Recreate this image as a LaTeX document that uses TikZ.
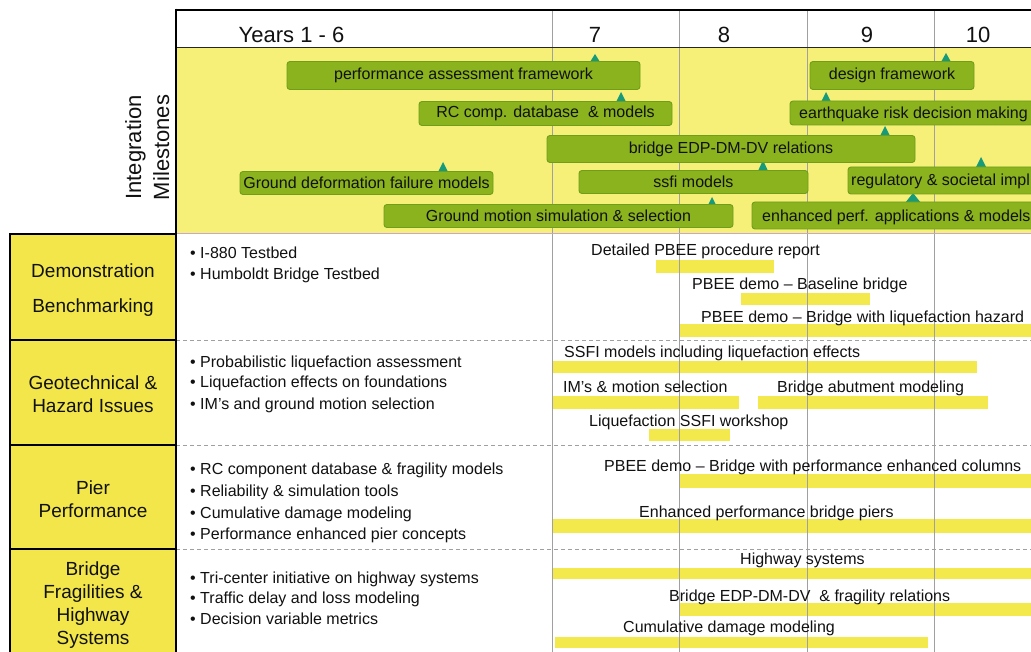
\documentclass[tikz,border=0pt]{standalone}
\usepackage{fontspec}
\setmainfont{Liberation Sans}
\definecolor{band}{HTML}{F6EF78}
\definecolor{labyellow}{HTML}{F2E64A}
\definecolor{baryellow}{HTML}{F3E84C}
\definecolor{msgreen}{HTML}{8AB31E}
\definecolor{msborder}{HTML}{6F9E1A}
\definecolor{tricol}{HTML}{169A7A}
\definecolor{gridgray}{HTML}{A0A0A0}
\definecolor{purpleline}{HTML}{C9A6CF}
\definecolor{txt}{HTML}{111111}
\tikzset{
  ms/.style={rectangle, rounded corners=3pt, fill=msgreen, draw=msborder, line width=0.9pt, inner sep=0pt, text=txt, font=\fontsize{16}{19}\selectfont},
  mstext/.style={inner sep=0pt, anchor=base west, text=txt, font=\fontsize{16}{19}\selectfont},
  tri/.style={fill=tricol},
  bar/.style={fill=baryellow},
  body/.style={inner sep=0pt, anchor=base west, text=txt, font=\fontsize{16}{19}\selectfont},
  hdr/.style={inner sep=0pt, anchor=base, text=txt, font=\fontsize{22}{26}\selectfont},
  labbox/.style={rectangle, fill=labyellow, draw=black, line width=1.4pt, inner sep=0pt},
  labtext/.style={inner sep=0pt, align=center, text=txt, font=\fontsize{19}{23}\selectfont},
  vlab/.style={inner sep=0pt, anchor=base, rotate=90, text=txt, font=\fontsize{22}{26}\selectfont},
  gridl/.style={draw=gridgray, line width=0.8pt},
  sep/.style={draw=gridgray, line width=0.8pt, dash pattern=on 4pt off 3pt}
}
\begin{document}
\begin{tikzpicture}[x=1pt,y=-1pt]
\useasboundingbox (0,0) rectangle (1031,652);
\clip (0,0) rectangle (1031,652);
\fill[white] (0,0) rectangle (1031,652);
% milestone band
\fill[band] (176,47.5) rectangle (1031,234);
% bars
\fill[bar] (656,260) rectangle (774,273);
\fill[bar] (741,293) rectangle (870,305);
\fill[bar] (679,324) rectangle (1031,337);
\fill[bar] (552,361) rectangle (977,373);
\fill[bar] (552,396) rectangle (739,409);
\fill[bar] (758,396) rectangle (988,409);
\fill[bar] (649,429) rectangle (730,441);
\fill[bar] (679,474) rectangle (1031,488);
\fill[bar] (552,519) rectangle (1031,533);
\fill[bar] (552,568) rectangle (1031,579);
\fill[bar] (679,603) rectangle (1031,616);
\fill[bar] (555,637) rectangle (928,648);
% grid lines
\foreach \gx in {552,679,807,934} \draw[gridl] (\gx,10) -- (\gx,652);
% dashed separators
\foreach \sy in {340,445,549} \draw[sep] (176,\sy) -- (1031,\sy);
% band bottom line
\draw[purpleline, line width=1pt] (176,234) -- (1031,234);
% header line and frame
\draw[black!85, line width=1.4pt] (176,47.5) -- (1031,47.5);
\draw[black, line width=2.5pt] (176,10) -- (1031,10);
\draw[black, line width=2.5pt] (176,8.75) -- (176,652);
% header
\node[hdr] (hY) at (291.5,42.5) {Years 1 - 6};
\node[hdr] (h7) at (595,42.5) {7};
\node[hdr] (h8) at (724,42.5) {8};
\node[hdr] (h9) at (867,42.5) {9};
\node[hdr] (h10) at (978,42.5) {10};
% vertical label
\node[vlab] (vInt) at (141,147.5) {Integration};
\node[vlab] (vMil) at (169,147.5) {Milestones};
% triangles
\fill[tri] (595,54) -- (600,62) -- (590,62) -- cycle;
\fill[tri] (621,92) -- (626,102) -- (616,102) -- cycle;
\fill[tri] (885,126) -- (890,136) -- (880,136) -- cycle;
\fill[tri] (443,162) -- (448,172) -- (438,172) -- cycle;
\fill[tri] (763,160) -- (768,171) -- (758,171) -- cycle;
\fill[tri] (712,197) -- (716,205) -- (708,205) -- cycle;
\fill[tri] (946,53) -- (951,62) -- (941,62) -- cycle;
\fill[tri] (826,92) -- (831,102) -- (821,102) -- cycle;
\fill[tri] (981,157) -- (986.5,168) -- (975.5,168) -- cycle;
\fill[tri] (913,193) -- (921,203) -- (905,203) -- cycle;
% milestone boxes
\node[ms, minimum width=353pt, minimum height=28pt] (mPA) at (463.5,75.5) {performance assessment framework};
\node[ms, minimum width=253pt, minimum height=24pt] (mRC) at (545.5,113.5) {RC comp. database\ \ \& models};
\node[ms, minimum width=368pt, minimum height=27pt] (mBR) at (731,149) {bridge EDP-DM-DV relations};
\node[ms, minimum width=253pt, minimum height=23pt] (mGD) at (366.5,183) {Ground deformation failure models};
\node[ms, minimum width=229pt, minimum height=23pt] (mSS) at (693.5,182) {ssfi models};
\node[ms, minimum width=349pt, minimum height=23pt] (mGM) at (558.5,216) {Ground motion simulation \& selection};
\node[ms, minimum width=164pt, minimum height=28pt] (mDF) at (892,75.5) {design framework};
\node[ms, minimum width=260pt, minimum height=24pt] (mEQ) at (920,113) {};
\node[mstext] (mEQt) at (799,119) {earthquake risk decision making};
\node[ms, minimum width=200pt, minimum height=27pt] (mRS) at (948,180.5) {};
\node[mstext] (mRSt) at (851,186) {regulatory \& societal impl};
\node[ms, minimum width=300pt, minimum height=27pt] (mEP) at (902,215.5) {};
\node[mstext] (mEPt) at (762,221.5) {enhanced perf. applications \& models};
% left label boxes
\node[labbox, minimum width=166pt, minimum height=106pt] (lDemo) at (93,287) {};
\node[labbox, minimum width=166pt, minimum height=105pt] (lGeo) at (93,392.5) {};
\node[labbox, minimum width=166pt, minimum height=104pt] (lPier) at (93,497) {};
\node[labbox, minimum width=166pt, minimum height=106pt] (lBri) at (93,602) {};
\node[labtext] (lDemoT) at (93,290) {Demonstration\\[12pt]Benchmarking};
\node[labtext] (lGeoT) at (93,394) {Geotechnical \&\\Hazard Issues};
\node[labtext] (lPierT) at (93,499.5) {Pier\\Performance};
\node[labtext] (lBriT) at (93,605) {Bridge\\Fragilities \&\\Highway\\Systems};
\draw[black, line width=2.5pt] (176,234) -- (176,652);
% left column bullets
\node[body] (b11) at (190,259) {• I-880 Testbed};
\node[body] (b12) at (190,280) {• Humboldt Bridge Testbed};
\node[body] (b21) at (190,367) {• Probabilistic liquefaction assessment};
\node[body] (b22) at (190,388) {• Liquefaction effects on foundations};
\node[body] (b23) at (190,409) {• IM's and ground motion selection};
\node[body] (b31) at (190,474) {• RC component database \& fragility models};
\node[body] (b32) at (190,496) {• Reliability \& simulation tools};
\node[body] (b33) at (190,518) {• Cumulative damage modeling};
\node[body] (b34) at (190,539) {• Performance enhanced pier concepts};
\node[body] (b41) at (190,583) {• Tri-center initiative on highway systems};
\node[body] (b42) at (190,603) {• Traffic delay and loss modeling};
\node[body] (b43) at (190,624) {• Decision variable metrics};
% bar labels
\node[body] (t1) at (591,256) {Detailed PBEE procedure report};
\node[body] (t2) at (692,290) {PBEE demo – Baseline bridge};
\node[body] (t3) at (701,323) {PBEE demo – Bridge with liquefaction hazard};
\node[body] (t4) at (564,358) {SSFI models including liquefaction effects};
\node[body] (t5) at (563,392) {IM's \& motion selection};
\node[body] (t6) at (777,392) {Bridge abutment modeling};
\node[body] (t7) at (589,426) {Liquefaction SSFI workshop};
\node[body] (t8) at (604,471) {PBEE demo – Bridge with performance enhanced columns};
\node[body] (t9) at (639,517) {Enhanced performance bridge piers};
\node[body] (t10) at (740,564) {Highway systems};
\node[body] (t11) at (669,601) {Bridge EDP-DM-DV\ \ \& fragility relations};
\node[body] (t12) at (623,632) {Cumulative damage modeling};
\end{tikzpicture}
\end{document}
